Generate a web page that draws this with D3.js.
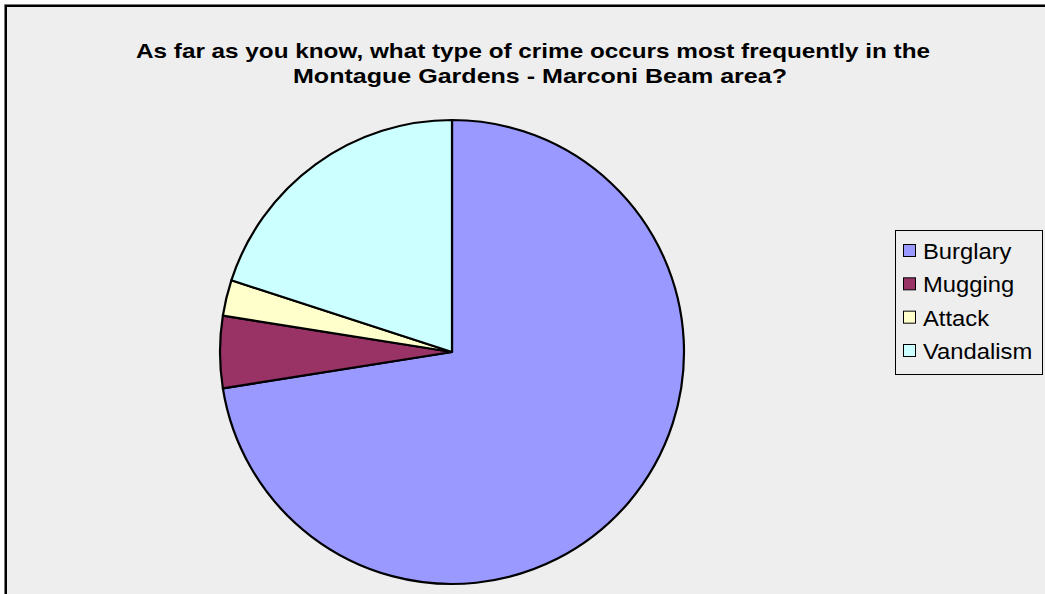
<!DOCTYPE html>
<html><head><meta charset="utf-8">
<script src="https://cdn.jsdelivr.net/npm/d3@7"></script>
<style>html,body{margin:0;padding:0;background:#fff;}svg{display:block;}</style>
</head><body>
<svg id="chart" width="1045" height="594"></svg>
<script>
const categories = ["Burglary", "Mugging", "Attack", "Vandalism"];
const values = [29, 2, 1, 8];
const colors = ["#9999FF", "#993366", "#FFFFCC", "#CCFFFF"];
const titleLines = ["As far as you know, what type of crime occurs most frequently in the", "Montague Gardens - Marconi Beam area?"];

const svg = d3.select("#chart");
const W = 1045, H = 594;

// chart area background and frame
svg.append("rect").attr("x", 5).attr("y", 5).attr("width", W).attr("height", H).attr("fill", "#eeeeee");
svg.append("path").attr("d", `M4.5,${H} V4.5 H${W}`).attr("fill", "none").attr("stroke", "#777").attr("stroke-width", 1);
svg.append("path").attr("d", `M6,${H} V6 H${W}`).attr("fill", "none").attr("stroke", "#000").attr("stroke-width", 2);

// title
const title = svg.append("text").attr("font-family", "Liberation Sans, Arial, sans-serif")
  .attr("font-weight", "bold").attr("font-size", 21).attr("fill", "#000").attr("text-anchor", "middle");
title.append("tspan").attr("x", 533).attr("y", 58).attr("textLength", 794).attr("lengthAdjust", "spacingAndGlyphs").text(titleLines[0]);
title.append("tspan").attr("x", 540).attr("y", 83).attr("textLength", 494).attr("lengthAdjust", "spacingAndGlyphs").text(titleLines[1]);

// pie
const cx = 452, cy = 352, r = 232;
const pie = d3.pie().sort(null).value(d => d)(values);
const arc = d3.arc().innerRadius(0).outerRadius(r);
const g = svg.append("g").attr("transform", `translate(${cx},${cy})`);
g.selectAll("path").data(pie).join("path")
  .attr("d", arc)
  .attr("fill", (d, i) => colors[i])
  .attr("stroke", "#000").attr("stroke-width", 2.2).attr("stroke-linejoin", "round");

// legend
const lx = 895, ly = 230;
svg.append("rect").attr("x", lx + 0.5).attr("y", ly + 0.5).attr("width", 147).attr("height", 144)
  .attr("fill", "#eeeeee").attr("stroke", "#000").attr("stroke-width", 1);
const yScale = d3.scalePoint().domain(categories).range([251, 351]);
const items = svg.selectAll("g.leg").data(categories).join("g").attr("class", "leg")
  .attr("transform", d => `translate(${lx + 8},${yScale(d)})`);
items.append("rect").attr("x", 0.5).attr("y", -6.5).attr("width", 12).attr("height", 12)
  .attr("fill", (d, i) => colors[i]).attr("stroke", "#000").attr("stroke-width", 1);
items.append("text").attr("x", 20).attr("y", 8)
  .attr("font-family", "Liberation Sans, Arial, sans-serif").attr("font-size", 22).attr("fill", "#000")
  .text(d => d)
  .each(function () {
    const w = this.getComputedTextLength();
    d3.select(this).attr("textLength", w * 1.08).attr("lengthAdjust", "spacingAndGlyphs");
  });
</script>
</body></html>
